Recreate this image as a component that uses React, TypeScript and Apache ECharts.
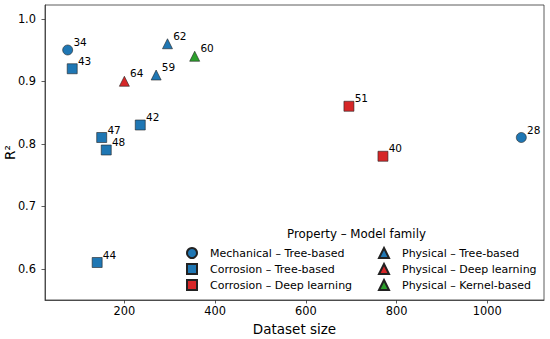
import React, { useEffect, useRef } from "react";
import * as echarts from "echarts";

const mechTreeX = [75, 1075];
const mechTreeY = [0.95, 0.81];
const mechTreeN = [34, 28];

const corrTreeX = [85, 150, 160, 235, 140];
const corrTreeY = [0.92, 0.81, 0.79, 0.83, 0.61];
const corrTreeN = [43, 47, 48, 42, 44];

const corrDeepX = [695, 770];
const corrDeepY = [0.86, 0.78];
const corrDeepN = [51, 40];

const physTreeX = [295, 270];
const physTreeY = [0.96, 0.91];
const physTreeN = [62, 59];

const physDeepX = [200];
const physDeepY = [0.9];
const physDeepN = [64];

const physKernelX = [355];
const physKernelY = [0.94];
const physKernelN = [60];

const xTicks = [200, 400, 600, 800, 1000];
const yTicks = [0.6, 0.7, 0.8, 0.9, 1.0];

const BLUE = "#1f77b4";
const RED = "#d62728";
const GREEN = "#2ca02c";
const FONT = "DejaVu Sans";
const TXT = "#000";

const zip = (xs: number[], ys: number[], ns: number[]) =>
  xs.map((x, i) => [x, ys[i], ns[i]]);

export default function App() {
  const ref = useRef<HTMLDivElement>(null);
  useEffect(() => {
    document.body.style.margin = "0";
    const chart = echarts.init(ref.current!, null, { renderer: "svg" });
    const mk = (
      name: string,
      symbol: string,
      size: number,
      color: string,
      data: number[][]
    ) => ({
      name,
      type: "scatter",
      symbol,
      symbolSize: size,
      data,
      itemStyle: { color, borderColor: "#222", borderWidth: 0.6, opacity: 1 },
      label: {
        show: true,
        position: [size / 2 + 6, size / 2 - 2],
        align: "left",
        verticalAlign: "bottom",
        formatter: (p: any) => String(p.value[2]),
        fontFamily: FONT,
        fontSize: 10.5,
        color: TXT,
      },
      emphasis: { disabled: true },
    });
    const series = [
      mk("Mechanical – Tree-based", "circle", 10, BLUE, zip(mechTreeX, mechTreeY, mechTreeN)),
      mk("Corrosion – Tree-based", "rect", 10, BLUE, zip(corrTreeX, corrTreeY, corrTreeN)),
      mk("Corrosion – Deep learning", "rect", 10, RED, zip(corrDeepX, corrDeepY, corrDeepN)),
      mk("Physical – Tree-based", "triangle", 10, BLUE, zip(physTreeX, physTreeY, physTreeN)),
      mk("Physical – Deep learning", "triangle", 10, RED, zip(physDeepX, physDeepY, physDeepN)),
      mk("Physical – Kernel-based", "triangle", 10, GREEN, zip(physKernelX, physKernelY, physKernelN)),
    ];
    const legendBase = {
      orient: "vertical",
      top: 247,
      itemWidth: 10,
      itemHeight: 10,
      itemGap: 4,
      padding: 0,
      selectedMode: false,
      textStyle: { fontFamily: FONT, fontSize: 11, color: TXT, padding: [0, 0, 0, 8] },
    };
    chart.setOption({
      animation: false,
      title: {
        text: "Property – Model family",
        left: 287,
        top: 228,
        padding: 0,
        textStyle: { fontFamily: FONT, fontSize: 11.8, fontWeight: "normal", color: TXT },
      },
      legend: [
        {
          ...legendBase,
          left: 186,
          data: [
            { name: "Mechanical – Tree-based", icon: "circle" },
            { name: "Corrosion – Tree-based", icon: "rect" },
            { name: "Corrosion – Deep learning", icon: "rect" },
          ],
        },
        {
          ...legendBase,
          left: 378,
          data: [
            { name: "Physical – Tree-based", icon: "triangle" },
            { name: "Physical – Deep learning", icon: "triangle" },
            { name: "Physical – Kernel-based", icon: "triangle" },
          ],
        },
      ],
      grid: {
        left: 45,
        right: 6,
        top: 5,
        bottom: 39,
        show: true,
        borderColor: "#333",
        borderWidth: 0.8,
        containLabel: false,
        outerBoundsMode: "none",
      },
      xAxis: {
        type: "value",
        min: 25,
        max: 1125,
        name: "Dataset size",
        nameLocation: "middle",
        nameGap: 22,
        nameMoveOverlap: false,
        nameTextStyle: { fontFamily: FONT, fontSize: 13.5, color: TXT },
        splitLine: { show: false },
        axisLine: { show: true, lineStyle: { color: "#333", width: 0.8 } },
        axisTick: { show: true, length: 3.5, customValues: xTicks, lineStyle: { color: "#333", width: 0.8 } },
        axisLabel: {
          customValues: xTicks,
          margin: 5,
          fontFamily: FONT,
          fontSize: 11.4,
          color: TXT,
          formatter: (v: number) => String(v),
        },
      },
      yAxis: {
        type: "value",
        min: 0.55,
        max: 1.022,
        name: "R²",
        nameLocation: "middle",
        nameGap: 28,
        nameRotate: 90,
        nameMoveOverlap: false,
        nameTextStyle: { fontFamily: FONT, fontSize: 13.5, color: TXT },
        splitLine: { show: false },
        axisLine: { show: true, lineStyle: { color: "#333", width: 0.8 } },
        axisTick: { show: true, length: 3.5, customValues: yTicks, lineStyle: { color: "#333", width: 0.8 } },
        axisLabel: {
          customValues: yTicks,
          margin: 9,
          fontFamily: FONT,
          fontSize: 11.4,
          color: TXT,
          formatter: (v: number) => v.toFixed(1),
        },
      },
      series,
    });
    return () => chart.dispose();
  }, []);
  return <div ref={ref} style={{ width: 550, height: 339 }} />;
}
